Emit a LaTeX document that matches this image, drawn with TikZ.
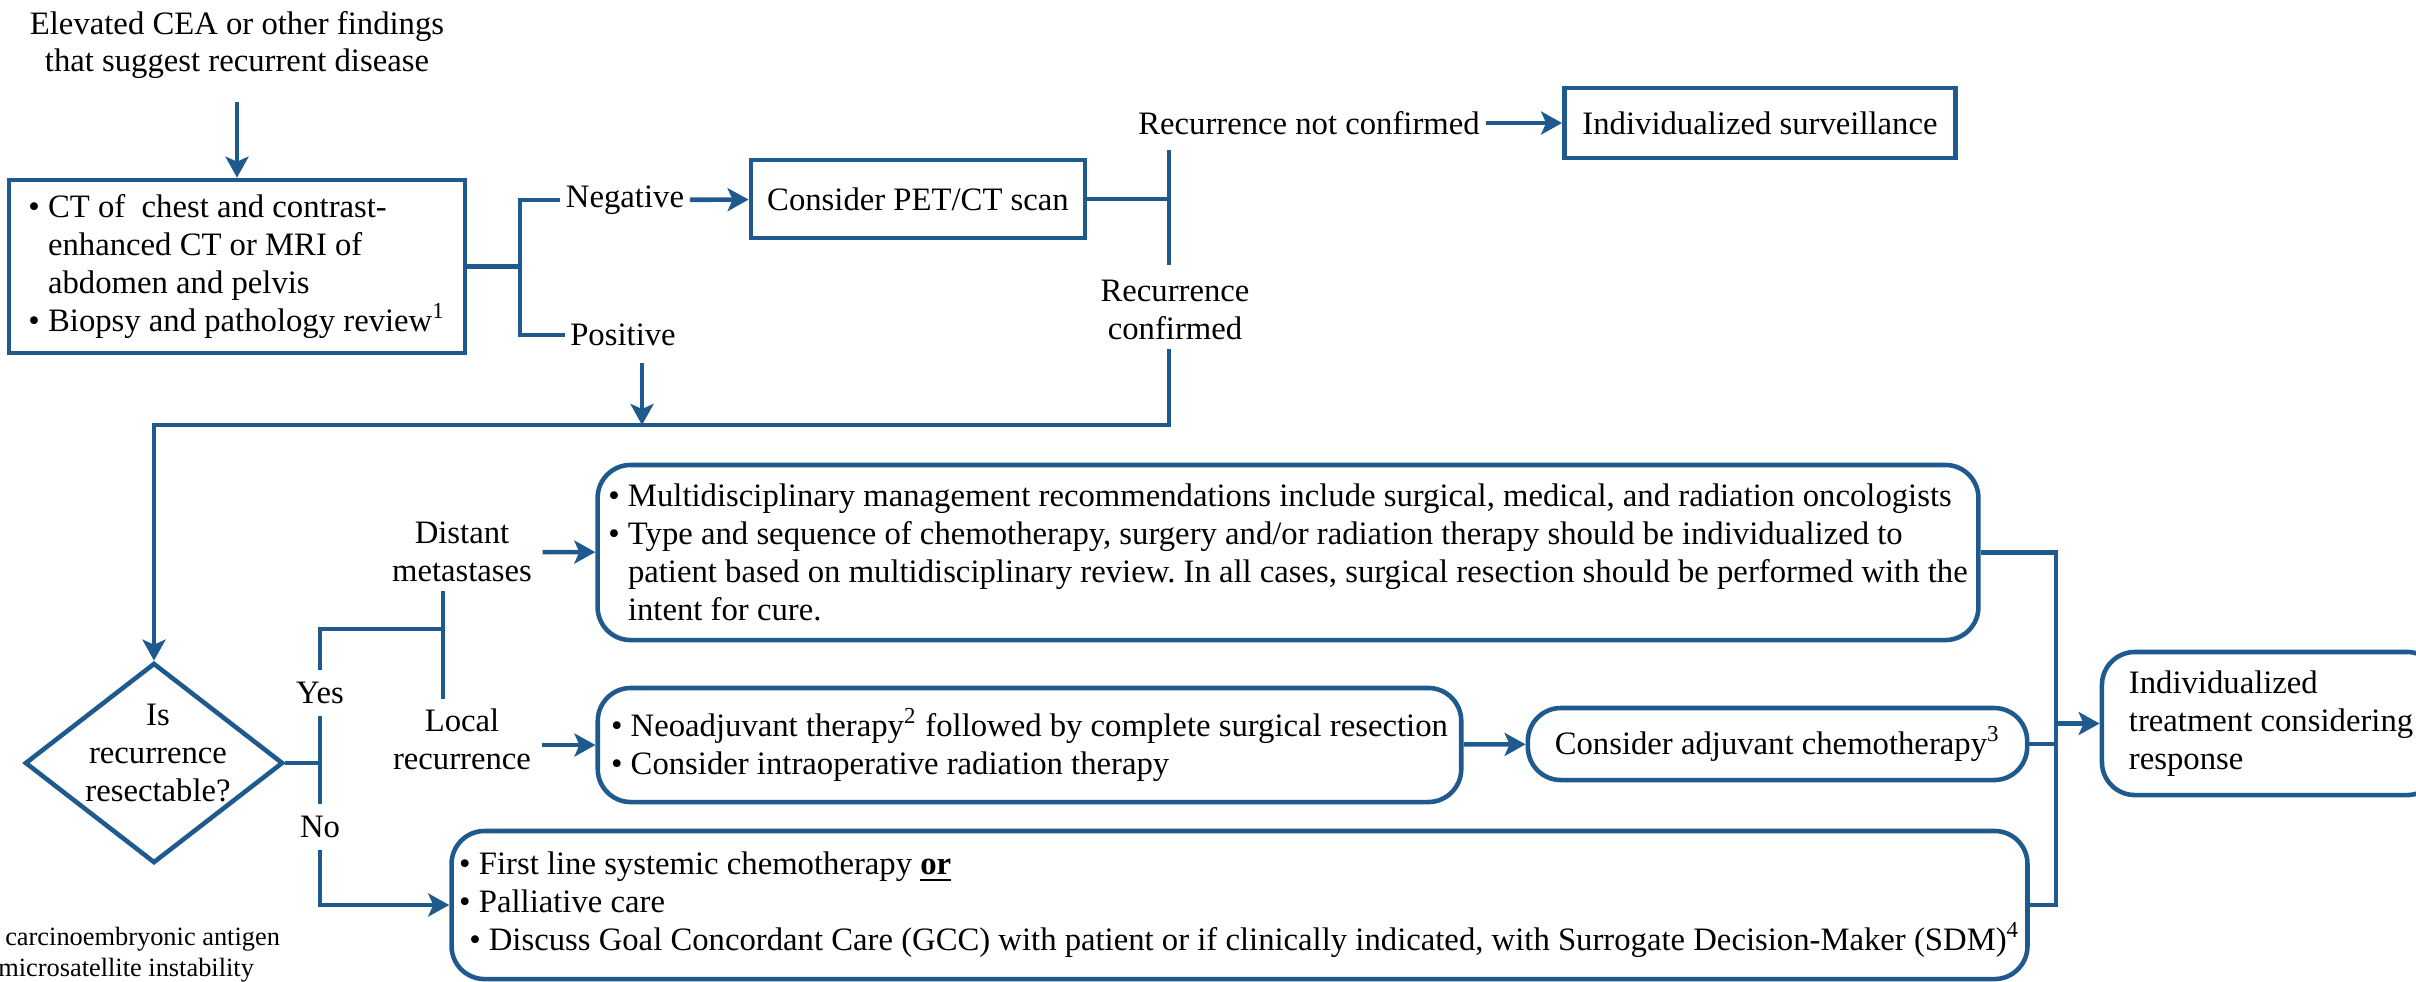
\documentclass[tikz,border=0pt]{standalone}
\usepackage{fontspec}
\setmainfont{Liberation Serif}
\frenchspacing
\usetikzlibrary{arrows.meta, shapes.geometric}
\definecolor{cblue}{HTML}{1F5A8F}
\tikzset{
  every picture/.style={line width=1.3pt, font=\fontsize{9.3}{10.8}\selectfont},
  box/.style={draw=cblue, align=left, inner sep=0pt},
  rbox/.style={box, rounded corners=0.33cm},
  decision/.style={draw=cblue, shape=diamond, inner sep=0pt},
  tag/.style={align=center, inner xsep=1pt, inner ysep=2pt},
  line/.style={draw=cblue},
  arrow/.style={line, -{Stealth[length=2.1mm, width=2.3mm, inset=0.5mm]}},
  note/.style={font=\fontsize{7.5}{8.8}\selectfont, anchor=west, inner sep=0pt},
}

\begin{document}
\begin{tikzpicture}[x=0.01cm, y=-0.01cm]
  \useasboundingbox (0,0) rectangle (2416,981);
  % work-up
  \node[tag] (elev) at (237,45) {Elevated CEA or other findings\\that suggest recurrent disease};
  \node[box, minimum width=4.56cm, minimum height=1.73cm] (scan) at (237,266.5)
    {\textbullet\ CT of\ \ chest and contrast-\\\hphantom{\textbullet\ }enhanced CT or MRI of\\\hphantom{\textbullet\ }abdomen and pelvis\\\textbullet\ Biopsy and pathology review\textsuperscript{1}};
  \node[tag] (neg) at (625,200) {Negative};
  \node[tag] (pos) at (623,335) {Positive};
  \node[box, minimum width=3.34cm, minimum height=0.78cm] (pet) at (918,199) {Consider PET/CT scan};
  \node[tag] (notconf) at (1309,123) {Recurrence not confirmed};
  \node[tag] (conf) at (1175,310) {Recurrence\\confirmed};
  \node[box, minimum width=3.91cm, minimum height=0.70cm] (surv) at (1760,123) {Individualized surveillance};
  % decision
  \node[decision, minimum width=2.58cm, minimum height=2cm] (resect) at (154,763) {};
  \node[tag] (resecttxt) at (158,753) {Is\\recurrence\\resectable?};
  \node[tag, inner ysep=0.1cm] (yes) at (320,693) {Yes};
  \node[tag, inner ysep=0.1cm] (no) at (320,827) {No};
  \node[tag] (dist) at (462,552) {Distant\\metastases};
  \node[tag] (locl) at (462,739) {Local\\recurrence};
  % treatment
  \node[rbox, minimum width=13.8cm, minimum height=1.75cm] (multi) at (1288,552.5)
    {\textbullet\ Multidisciplinary management recommendations include surgical, medical, and radiation oncologists\\
     \textbullet\ Type and sequence of chemotherapy, surgery and/or radiation therapy should be individualized to\\
     \hphantom{\textbullet\ }patient based on multidisciplinary review. In all cases, surgical resection should be performed with the\\
     \hphantom{\textbullet\ }intent for cure.};
  \node[rbox, minimum width=8.63cm, minimum height=1.14cm] (localbox) at (1029.5,745)
    {\textbullet\ Neoadjuvant therapy\textsuperscript{2} followed by complete surgical resection\\
     \textbullet\ Consider intraoperative radiation therapy};
  \node[rbox, minimum width=4.99cm, minimum height=0.72cm] (adj) at (1777.5,744) {Consider adjuvant chemotherapy\textsuperscript{3}};
  \node[rbox, minimum width=15.75cm, minimum height=1.48cm] (nobox) at (1239.5,905)
    {\textbullet\ First line systemic chemotherapy \underline{\textbf{or}}\\
     \textbullet\ Palliative care\\
     \hspace*{0.1cm}\textbullet\ Discuss Goal Concordant Care (GCC) with patient or if clinically indicated, with Surrogate Decision-Maker (SDM)\textsuperscript{4}};
  \node[rbox, minimum width=3.38cm, minimum height=1.43cm] (final) at (2271,723.5)
    {Individualized\\treatment considering\\response};
  \node[note] (fn1) at (3,939) {carcinoembryonic antigen};
  \node[note] (fn2) at (-4,970) {microsatellite instability};
  % branch points
  \coordinate (fork1) at (520,266.5);
  \coordinate (fork2) at (1169,199);
  \coordinate (join) at (642,425);
  \coordinate (turn) at (1169,425);
  \coordinate (fork3) at (320,763);
  \coordinate (fork4) at (443,629);
  \coordinate (bus) at (2056,723.5);
  % connectors
  \draw[arrow, shorten <=0.14cm] (elev) -- (scan);
  \draw[line] (scan) -- (fork1);
  \draw[line] (neg) -| (fork1) |- (pos);
  \draw[arrow] (neg) -- (pet);
  \draw[arrow, shorten <=0.08cm] (pos.south -| join) -- (join);
  \draw[line] (pet) -- (fork2);
  \draw[line, shorten <=0.06cm, shorten >=0.06cm] (fork2 |- notconf.south) -- (fork2 |- conf.north);
  \draw[arrow] (notconf) -- (surv);
  \draw[arrow] (conf.south -| fork2) -- (turn) -| (resect.north);
  \draw[line] (resect.east) -- (fork3);
  \draw[line] (yes) -- (no);
  \draw[line] (yes) |- (fork4);
  \draw[line] (fork4 |- dist.south) -- (fork4 |- locl.north);
  \draw[arrow] (no) |- (nobox);
  \draw[arrow, shorten <=0.05cm] (dist) -- (multi);
  \draw[arrow, shorten <=0.05cm] (locl.east |- localbox) -- (localbox);
  \draw[arrow] (localbox) -- (adj);
  \draw[line] (multi) -| (bus |- nobox) -- (nobox);
  \draw[line] (adj) -- (adj -| bus);
  \draw[arrow] (bus) -- (final);
\end{tikzpicture}
\end{document}
